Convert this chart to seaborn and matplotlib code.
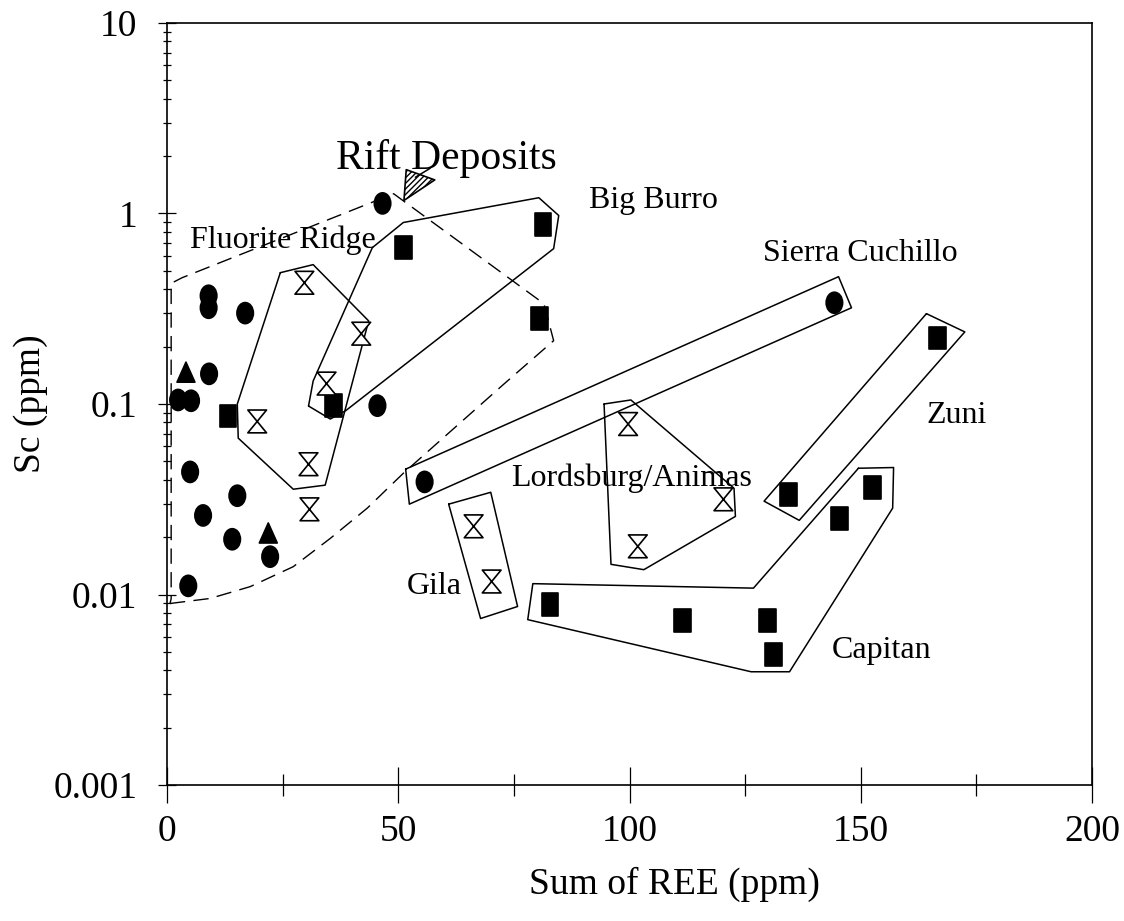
import numpy as np
import pandas as pd
import matplotlib
matplotlib.use("Agg")
import matplotlib.pyplot as plt
from matplotlib.path import Path
from matplotlib.ticker import FixedLocator, FuncFormatter, NullFormatter, LogLocator
import seaborn as sns

# ---------------- data ----------------
circle_x = [46.6, 9.0, 9.0, 16.9, 9.1, 2.4, 5.2, 45.5, 5.0, 15.2, 7.8, 14.1, 22.3, 4.6, 55.7, 144.3]
circle_y = [1.13, 0.37, 0.32, 0.30, 0.144, 0.105, 0.104, 0.098, 0.044, 0.033, 0.026, 0.0195, 0.0158, 0.0111, 0.039, 0.34]

triangle_x = [4.1, 21.9]
triangle_y = [0.146, 0.0209]

square_x = [13.2, 36.0, 51.1, 81.3, 80.6, 82.8, 111.4, 129.8, 131.1, 166.6, 134.3, 152.5, 145.4]
square_y = [0.0865, 0.0985, 0.66, 0.875, 0.28, 0.00886, 0.0073, 0.0073, 0.00483, 0.222, 0.0336, 0.0366, 0.0251]

hourglass_x = [19.5, 29.7, 42.0, 34.5, 30.6, 30.8, 66.3, 70.2, 99.7, 120.3, 101.8]
hourglass_y = [0.081, 0.433, 0.234, 0.128, 0.0483, 0.028, 0.0228, 0.0117, 0.0785, 0.0316, 0.0179]

rift_x = [53.7]
rift_y = [1.44]

# group envelopes (vertices in data units)
fluorite_env_x = [0.65, 9.3, 18.0, 27.3, 35.3, 43.3, 51.1, 72.8, 83.6, 81.5, 49.0, 3.25, 0.9, 0.9, 0.65]
fluorite_env_y = [0.00897, 0.00953, 0.0110, 0.0140, 0.0197, 0.0284, 0.0433, 0.127, 0.215, 0.336, 1.27, 0.46, 0.43, 0.0095, 0.00897]

fr_hourglass_x = [24.5, 31.6, 43.6, 34.2, 27.3, 15.4, 15.2, 24.5]
fr_hourglass_y = [0.489, 0.539, 0.273, 0.0375, 0.0357, 0.0662, 0.1, 0.489]

bigburro_x = [30.6, 31.6, 44.4, 51.1, 80.4, 84.7, 83.6, 38.6, 35.3, 30.6]
bigburro_y = [0.0976, 0.132, 0.662, 0.897, 1.21, 0.976, 0.654, 0.0921, 0.0834, 0.0976]

sierra_x = [51.6, 145.2, 148.0, 52.4, 51.6]
sierra_y = [0.0455, 0.466, 0.32, 0.0298, 0.0455]

gila_x = [60.9, 70.0, 75.8, 67.8, 60.9]
gila_y = [0.0298, 0.0344, 0.00865, 0.00748, 0.0298]

lordsburg_x = [94.5, 100.3, 122.6, 122.9, 103.1, 96.0, 94.5]
lordsburg_y = [0.1, 0.105, 0.0361, 0.0257, 0.0135, 0.0144, 0.1]

zuni_x = [164.2, 172.5, 136.7, 129.1, 164.2]
zuni_y = [0.298, 0.239, 0.0245, 0.0309, 0.298]

capitan_x = [149.5, 157.1, 156.9, 134.6, 126.3, 78.0, 79.1, 126.8, 149.5]
capitan_y = [0.046, 0.0464, 0.0284, 0.00393, 0.00393, 0.00738, 0.0114, 0.0108, 0.046]

labels = ["Fluorite Ridge", "Big Burro", "Sierra Cuchillo", "Zuni",
          "Lordsburg/Animas", "Gila", "Capitan"]
label_x = [5.0, 91.2, 128.9, 164.2, 74.3, 51.8, 143.7]
label_y = [0.72, 1.17, 0.616, 0.0865, 0.0408, 0.011, 0.0051]

x_ticks = [0, 50, 100, 150, 200]
x_minor = [25, 75, 125, 175]
y_ticks = [0.001, 0.01, 0.1, 1, 10]
y_ticklabels = ["0.001", "0.01", "0.1", "1", "10"]

# ---------------- style ----------------
sns.set_style("white")
plt.rcParams['font.family'] = ['Liberation Serif', 'DejaVu Serif']
plt.rcParams['hatch.linewidth'] = 1.0
plt.rcParams['axes.edgecolor'] = 'black'

fig = plt.figure(figsize=(11.24, 9.21), dpi=100)
ax = fig.add_axes([167 / 1124, 1 - 785 / 921, (1092 - 167) / 1124, (785 - 23) / 921])

# marker shapes
uc = Path.unit_circle()
ellipse_m = Path(uc.vertices * np.array([0.78, 1.0]), uc.codes)
square_m = Path([(-0.74, -1), (0.74, -1), (0.74, 1), (-0.74, 1), (-0.74, -1)],
                [Path.MOVETO, Path.LINETO, Path.LINETO, Path.LINETO, Path.CLOSEPOLY])
triangle_m = Path([(-0.85, -0.9), (0.85, -0.9), (0, 1), (-0.85, -0.9)],
                  [Path.MOVETO, Path.LINETO, Path.LINETO, Path.CLOSEPOLY])
hourglass_m = Path([(-0.82, 1), (0.82, 1), (-0.82, -1), (0.82, -1), (-0.82, 1)],
                   [Path.MOVETO, Path.LINETO, Path.LINETO, Path.LINETO, Path.CLOSEPOLY])
rift_m = Path([(-8, 12), (17, 3), (-10, -15), (-8, 12)],
              [Path.MOVETO, Path.LINETO, Path.LINETO, Path.CLOSEPOLY])

df = pd.concat([
    pd.DataFrame({"x": circle_x, "y": circle_y, "symbol": "circle"}),
    pd.DataFrame({"x": triangle_x, "y": triangle_y, "symbol": "triangle"}),
    pd.DataFrame({"x": square_x, "y": square_y, "symbol": "square"}),
    pd.DataFrame({"x": hourglass_x, "y": hourglass_y, "symbol": "hourglass"}),
], ignore_index=True)

# envelopes
ax.plot(fluorite_env_x, fluorite_env_y, color='black', lw=1.0, dashes=(11, 6))
for px, py in [(fr_hourglass_x, fr_hourglass_y), (bigburro_x, bigburro_y),
               (sierra_x, sierra_y), (gila_x, gila_y), (lordsburg_x, lordsburg_y),
               (zuni_x, zuni_y), (capitan_x, capitan_y)]:
    ax.plot(px, py, color='black', lw=1.1)

sns.scatterplot(data=df, x="x", y="y", hue="symbol", style="symbol", size="symbol",
                palette={"circle": "black", "triangle": "black", "square": "black", "hourglass": "white"},
                markers={"circle": ellipse_m, "triangle": triangle_m, "square": square_m, "hourglass": hourglass_m},
                sizes={"circle": 230, "triangle": 230, "square": 270, "hourglass": 270},
                edgecolor='black', linewidth=1.2, legend=False, ax=ax, zorder=3)

sns.scatterplot(x=rift_x, y=rift_y, marker=rift_m, s=780, color='white', edgecolor='black',
                hatch='//////', linewidth=1.2, ax=ax, legend=False, zorder=3)

# labels
for t, lx, ly in zip(labels, label_x, label_y):
    ax.text(lx, ly, t, fontsize=23, ha='left', va='center', color='black', zorder=4)
ax.annotate("Rift Deposits", xy=(53.7, 1.55), xytext=(60.5, 1.95), fontsize=30,
            ha='center', va='center', color='black',
            arrowprops=dict(arrowstyle='-', color='black', lw=1.1, shrinkA=14, shrinkB=0))

# axes
ax.set_xscale('linear')
ax.set_yscale('log')
ax.set_xlim(0, 200)
ax.set_ylim(0.001, 10)
ax.xaxis.set_major_locator(FixedLocator(x_ticks))
ax.xaxis.set_minor_locator(FixedLocator(x_minor))
ax.yaxis.set_major_locator(FixedLocator(y_ticks))
ax.yaxis.set_major_formatter(FuncFormatter(lambda v, p: y_ticklabels[y_ticks.index(min(y_ticks, key=lambda t: abs(np.log10(t) - np.log10(v))))]))
ax.yaxis.set_minor_locator(LogLocator(base=10, subs=np.arange(2, 10)))
ax.yaxis.set_minor_formatter(NullFormatter())

ax.tick_params(axis='x', which='both', bottom=True, top=False)
ax.tick_params(axis='y', which='both', left=True, right=False)
ax.tick_params(axis='x', which='major', direction='inout', length=26, width=0.9, pad=8,
               labelsize=27, colors='black')
ax.tick_params(axis='x', which='minor', direction='inout', length=16, width=0.9, colors='black')
ax.tick_params(axis='y', which='major', direction='inout', length=13, width=0.9, pad=15,
               labelsize=27, colors='black')
ax.tick_params(axis='y', which='minor', direction='inout', length=6, width=0.9, colors='black')

for s in ax.spines.values():
    s.set_visible(True)
    s.set_color('black')
    s.set_linewidth(1.2)

ax.set_xlabel("Sum of REE (ppm)", fontsize=27, color='black')
ax.set_ylabel("Sc (ppm)", fontsize=27, color='black')
ax.xaxis.set_label_coords(0.549, -0.131)
ax.xaxis.label.set_va('center')
ax.yaxis.set_label_coords(-0.147, 0.5)
ax.yaxis.label.set_va('center')
ax.grid(False)

fig.savefig("out.png", dpi=100, facecolor='white')
